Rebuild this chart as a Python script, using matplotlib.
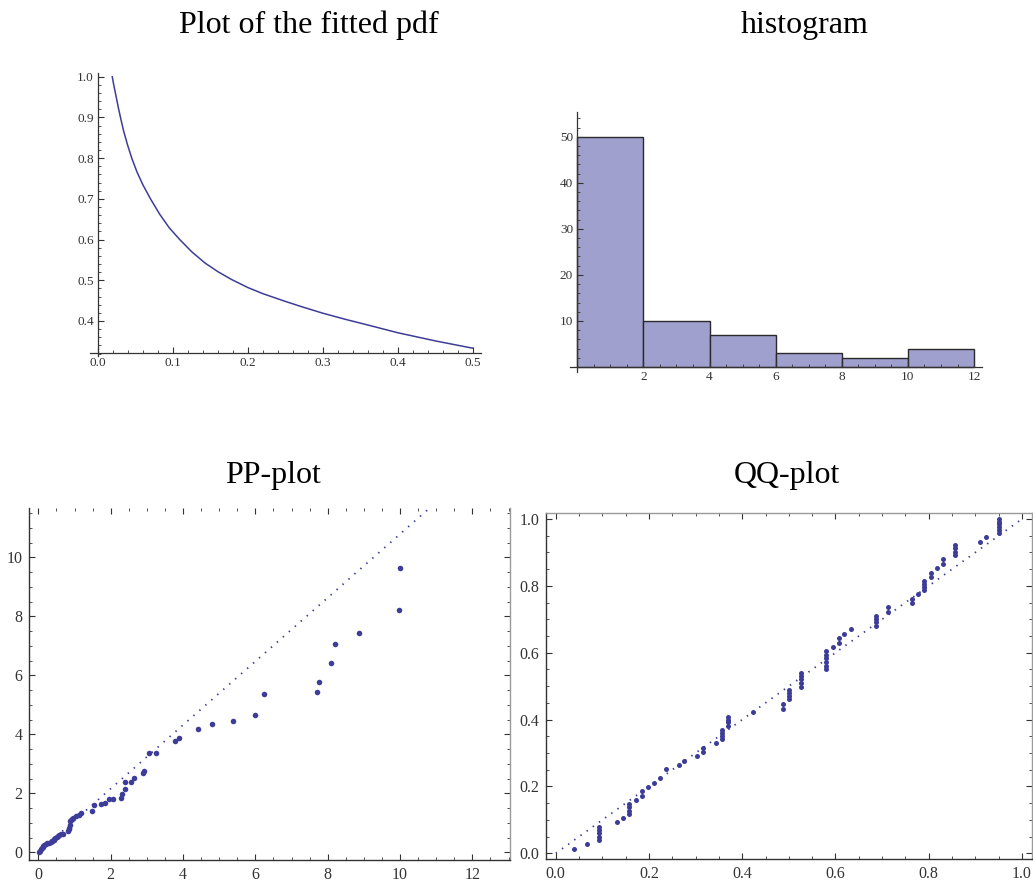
import matplotlib
matplotlib.use("Agg")
import matplotlib.pyplot as plt
from matplotlib.ticker import MultipleLocator, FixedLocator

plt.rcParams['font.family'] = ['Liberation Serif', 'DejaVu Serif']

# --- fitted pdf ---
pdf_x = [0.019, 0.021, 0.024, 0.027, 0.030, 0.034, 0.039, 0.045, 0.052, 0.060,
         0.070, 0.082, 0.095, 0.109, 0.125, 0.143, 0.160, 0.178, 0.20, 0.22,
         0.25, 0.27, 0.30, 0.33, 0.36, 0.40, 0.45, 0.50]
pdf_y = [1.0, 0.98, 0.953, 0.925, 0.9, 0.868, 0.835, 0.8, 0.766, 0.734,
         0.7, 0.663, 0.629, 0.6, 0.57, 0.542, 0.521, 0.502, 0.482, 0.467,
         0.448, 0.436, 0.419, 0.404, 0.390, 0.371, 0.351, 0.333]

# --- histogram ---
hist_edges = [0, 2, 4, 6, 8, 10, 12]
hist_counts = [50, 10, 7, 3, 2, 4]

# --- PP-plot ---
pp_x = [0.01, 0.04, 0.06, 0.09, 0.12, 0.14, 0.17, 0.21, 0.25, 0.30,
        0.34, 0.37, 0.39, 0.42, 0.44, 0.47, 0.51, 0.55, 0.58, 0.62,
        0.67, 0.82, 0.84, 0.86, 0.87, 0.88, 0.90, 0.94, 0.97, 1.04,
        1.12, 1.19, 1.47, 1.53, 1.72, 1.84, 1.96, 2.07, 2.29, 2.31,
        2.39, 2.40, 2.56, 2.65, 2.88, 2.91, 3.05, 3.24, 3.78, 3.90,
        4.41, 4.79, 5.37, 6.00, 6.25, 7.70, 7.76, 8.09, 8.21, 8.87,
        9.98, 10.0]
pp_y = [0.02, 0.06, 0.10, 0.14, 0.19, 0.22, 0.26, 0.28, 0.30, 0.33,
        0.35, 0.38, 0.40, 0.43, 0.45, 0.48, 0.53, 0.57, 0.60, 0.62,
        0.63, 0.73, 0.78, 0.84, 0.92, 1.05, 1.10, 1.12, 1.15, 1.23,
        1.28, 1.32, 1.40, 1.60, 1.63, 1.68, 1.80, 1.82, 1.85, 1.97,
        2.14, 2.37, 2.40, 2.52, 2.70, 2.77, 3.36, 3.36, 3.77, 3.89,
        4.19, 4.34, 4.45, 4.64, 5.37, 5.45, 5.76, 6.43, 7.07, 7.44,
        8.21, 9.64]
pp_ref_x = [0, 10.8]
pp_ref_y = [0, 11.65]

# --- QQ-plot ---
qq_x = [0.039, 0.066, 0.092, 0.092, 0.092, 0.092, 0.092, 0.132, 0.144,
        0.158, 0.158, 0.158, 0.158, 0.172, 0.184, 0.184, 0.197, 0.211, 0.223,
        0.237, 0.264, 0.276, 0.304, 0.316, 0.316, 0.343,
        0.356, 0.356, 0.356, 0.356, 0.369, 0.369, 0.369, 0.369, 0.423,
        0.488, 0.488, 0.501, 0.501, 0.501, 0.501,
        0.526, 0.526, 0.526, 0.526, 0.526,
        0.580, 0.580, 0.580, 0.580, 0.580, 0.580, 0.594, 0.607, 0.607,
        0.619, 0.633, 0.687, 0.687, 0.687, 0.687, 0.712, 0.712, 0.765, 0.765,
        0.778, 0.791, 0.791, 0.791, 0.791, 0.805, 0.805, 0.818, 0.831, 0.831,
        0.857, 0.857, 0.857, 0.857, 0.910, 0.923,
        0.950, 0.950, 0.950, 0.950, 0.950, 0.950]
qq_y = [0.014, 0.029, 0.04, 0.05, 0.06, 0.07, 0.08, 0.095, 0.107,
        0.118, 0.128, 0.138, 0.148, 0.158, 0.172, 0.185, 0.197, 0.211, 0.224,
        0.251, 0.263, 0.277, 0.29, 0.302, 0.315, 0.329,
        0.343, 0.352, 0.36, 0.369, 0.382, 0.392, 0.40, 0.409, 0.422,
        0.433, 0.447, 0.461, 0.47, 0.479, 0.488,
        0.499, 0.51, 0.52, 0.53, 0.54,
        0.55, 0.561, 0.572, 0.583, 0.594, 0.606, 0.617, 0.63, 0.643,
        0.656, 0.67, 0.681, 0.691, 0.70, 0.711, 0.722, 0.737, 0.748, 0.762,
        0.775, 0.788, 0.797, 0.806, 0.816, 0.827, 0.84, 0.853, 0.866, 0.88,
        0.892, 0.902, 0.912, 0.922, 0.931, 0.946,
        0.957, 0.966, 0.975, 0.984, 0.992, 1.0]
qq_ref_x = [0, 1.0]
qq_ref_y = [0, 1.0]

blue = '#3d3d99'
dark = '#333333'
light = '#9a9a9a'

W, H = 1033, 883
fig = plt.figure(figsize=(W / 100, H / 100), dpi=100)


def px_axes(left, top, right, bottom):
    return fig.add_axes([left / W, 1 - bottom / H, (right - left) / W, (bottom - top) / H])


def axis_style(ax, size):
    # Mathematica-like axes: only left/bottom, ticks inside
    ax.spines['top'].set_visible(False)
    ax.spines['right'].set_visible(False)
    for s in ('left', 'bottom'):
        ax.spines[s].set_color(dark)
        ax.spines[s].set_linewidth(0.9)
    ax.tick_params(which='both', direction='in', colors=dark, labelsize=size, pad=3)
    ax.tick_params(which='major', length=4, width=0.8)
    ax.tick_params(which='minor', length=2.2, width=0.6)
    ax.patch.set_alpha(0)


def frame_style(ax, size):
    ax.spines['left'].set_color(dark)
    ax.spines['bottom'].set_color(dark)
    ax.spines['right'].set_color(light)
    ax.spines['top'].set_color(light)
    for s in ax.spines.values():
        s.set_linewidth(1.0)
    ax.tick_params(which='both', direction='in', top=True, right=True,
                   colors=dark, labelsize=size, pad=5)
    ax.tick_params(which='major', length=4, width=0.8)
    ax.tick_params(which='minor', length=2.2, width=0.6)


# ---------------- top-left: fitted pdf ----------------
ax1 = px_axes(89.75, 72.7, 480.5, 356.4)
ax1.plot(pdf_x, pdf_y, color=blue, lw=1.1)
ax1.set_xlim(-0.011, 0.51)
ax1.set_ylim(0.313, 1.01)
ax1.spines['left'].set_position(('data', 0))
ax1.spines['bottom'].set_position(('data', 0.321))
ax1.xaxis.set_major_locator(FixedLocator([0.0, 0.1, 0.2, 0.3, 0.4, 0.5]))
ax1.xaxis.set_minor_locator(MultipleLocator(0.02))
ax1.yaxis.set_major_locator(FixedLocator([0.4, 0.5, 0.6, 0.7, 0.8, 0.9, 1.0]))
ax1.yaxis.set_minor_locator(MultipleLocator(0.02))
ax1.set_xticklabels(['0.0', '0.1', '0.2', '0.3', '0.4', '0.5'])
ax1.set_yticklabels(['0.4', '0.5', '0.6', '0.7', '0.8', '0.9', '1.0'])
axis_style(ax1, 9.5)

# ---------------- top-right: histogram ----------------
ax2 = px_axes(570, 111.9, 981.7, 371.6)
ax2.bar(hist_edges[:-1], hist_counts, width=2, align='edge',
        color='#a0a0cf', edgecolor='#2a2a2a', linewidth=1.0, zorder=1)
ax2.set_xlim(-0.22, 12.23)
ax2.set_ylim(-1.0, 55.4)
ax2.spines['left'].set_position(('data', 0))
ax2.spines['bottom'].set_position(('data', 0))
ax2.xaxis.set_major_locator(FixedLocator([2, 4, 6, 8, 10, 12]))
ax2.xaxis.set_minor_locator(MultipleLocator(0.5))
ax2.yaxis.set_major_locator(FixedLocator([10, 20, 30, 40, 50]))
ax2.yaxis.set_minor_locator(MultipleLocator(2))
axis_style(ax2, 9.5)
for sp in ax2.spines.values():
    sp.set_zorder(3)

# ---------------- bottom-left: PP-plot ----------------
ax3 = px_axes(29.3, 508, 510, 860)
ax3.plot(pp_ref_x, pp_ref_y, color=blue, lw=1.3, linestyle=(0, (0.8, 3.6)))
ax3.scatter(pp_x, pp_y, s=16, color=blue, linewidths=0, zorder=3)
ax3.set_xlim(-0.25, 13.04)
ax3.set_ylim(-0.26, 11.67)
ax3.xaxis.set_major_locator(MultipleLocator(2))
ax3.xaxis.set_minor_locator(MultipleLocator(0.5))
ax3.yaxis.set_major_locator(MultipleLocator(2))
ax3.yaxis.set_minor_locator(MultipleLocator(0.5))
frame_style(ax3, 11.5)
ax3.spines['top'].set_visible(False)

# ---------------- bottom-right: QQ-plot ----------------
ax4 = px_axes(546, 512.7, 1031.7, 859.3)
ax4.plot(qq_ref_x, qq_ref_y, color=blue, lw=1.3, linestyle=(0, (0.8, 3.4)))
ax4.scatter(qq_x, qq_y, s=13, color=blue, linewidths=0, zorder=3)
ax4.set_xlim(-0.021, 1.021)
ax4.set_ylim(-0.018, 1.019)
ax4.xaxis.set_major_locator(MultipleLocator(0.2))
ax4.xaxis.set_minor_locator(MultipleLocator(0.05))
ax4.yaxis.set_major_locator(MultipleLocator(0.2))
ax4.yaxis.set_minor_locator(MultipleLocator(0.05))
ax4.xaxis.set_major_formatter(lambda v, p: f"{v:.1f}")
ax4.yaxis.set_major_formatter(lambda v, p: f"{v:.1f}")
frame_style(ax4, 11.5)

# ---------------- titles ----------------
tsize = 23
fig.text(309 / W, 1 - 33 / H, 'Plot of the fitted pdf', ha='center', va='baseline', fontsize=tsize)
fig.text(805 / W, 1 - 33 / H, 'histogram', ha='center', va='baseline', fontsize=tsize)
fig.text(273 / W, 1 - 483 / H, 'PP-plot', ha='center', va='baseline', fontsize=tsize)
fig.text(787 / W, 1 - 483 / H, 'QQ-plot', ha='center', va='baseline', fontsize=tsize)

fig.savefig('out.png', dpi=100)
